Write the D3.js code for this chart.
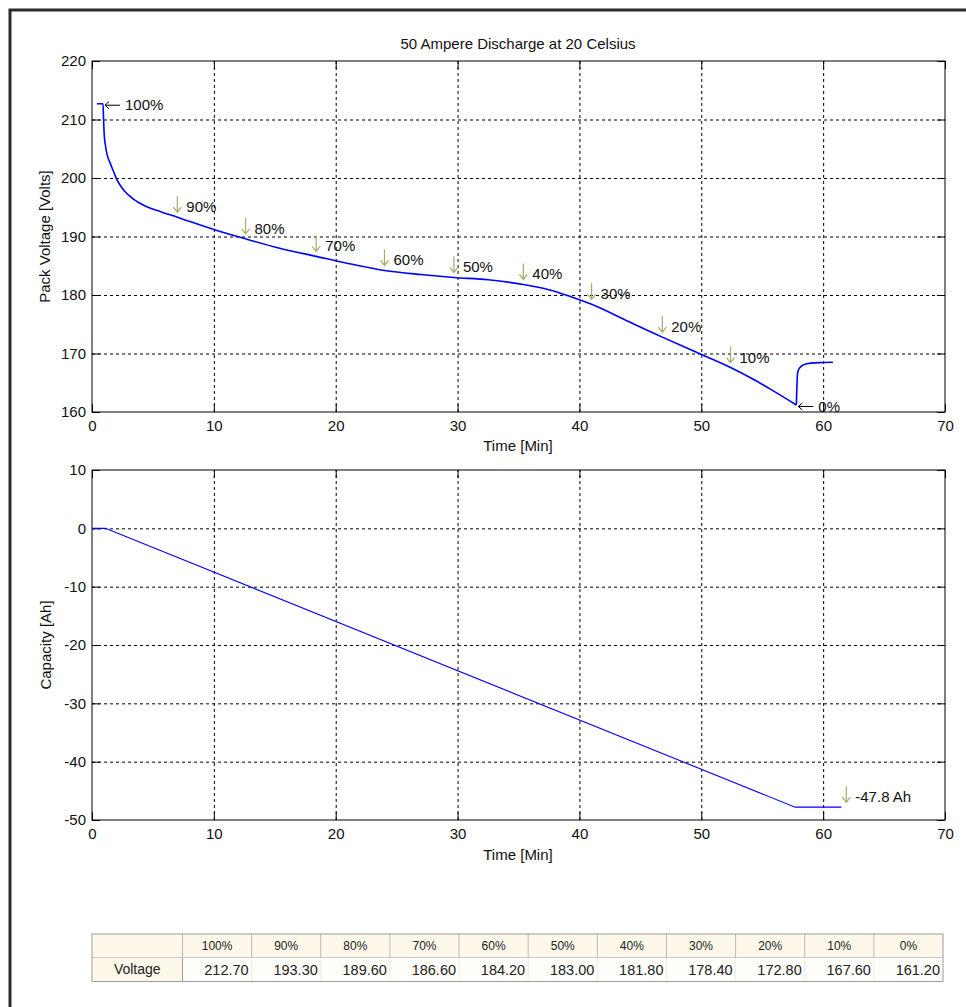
<!DOCTYPE html>
<html>
<head>
<meta charset="utf-8">
<script src="https://cdn.jsdelivr.net/npm/d3@7/dist/d3.min.js"></script>
<style>
  html, body { margin: 0; padding: 0; background: #ffffff; }
  svg { display: block; font-family: "Liberation Sans", Arial, sans-serif; }
</style>
</head>
<body>
<svg id="chart" width="966" height="1007"></svg>
<script>
// ---- Pack voltage during a 50 A discharge (minutes, volts) ----
const voltageTime  = [0.4, 0.9, 0.95, 1.0, 1.1, 1.25, 1.5, 1.75, 2.0, 2.3, 2.7, 3.4, 4.5, 5.7, 7.0, 10.0, 12.6, 15.4, 18.4, 21.0, 24.0, 27.0, 29.7, 32.5, 35.4, 37.5, 39.3, 41.0, 42.5, 44.5, 46.8, 49.6, 52.4, 54.0, 55.6, 57.8, 57.85, 57.9, 58.0, 58.2, 58.6, 59.0, 60.0, 60.8];
const voltageValue = [212.7, 212.7, 210.0, 207.5, 205.6, 203.9, 202.5, 201.2, 199.9, 198.8, 197.7, 196.4, 195.1, 194.2, 193.3, 191.2, 189.6, 188.0, 186.6, 185.4, 184.2, 183.5, 183.0, 182.6, 181.8, 180.9, 179.7, 178.4, 177.0, 175.0, 172.8, 170.2, 167.6, 165.9, 164.0, 161.2, 164.5, 166.6, 167.3, 167.8, 168.2, 168.35, 168.45, 168.5];
// index of the end of discharge (lowest voltage), where the rest period begins
const restStart = voltageValue.indexOf(d3.min(voltageValue));

// ---- Removed capacity (minutes, amp-hours) ----
const capacityTime  = [0.0, 1.1, 57.7, 61.5];
const capacityValue = [0.0, 0.0, -47.8, -47.8];

// ---- State-of-charge markers along the voltage curve ----
const socLabels  = ["100%", "90%", "80%", "70%", "60%", "50%", "40%", "30%", "20%", "10%", "0%"];
const socVoltage = [212.70, 193.30, 189.60, 186.60, 184.20, 183.00, 181.80, 178.40, 172.80, 167.60, 161.20];
const socTime    = [0.9, 7.0, 12.6, 18.4, 24.0, 29.7, 35.4, 41.0, 46.8, 52.4, 57.8];

// ---- Final capacity marker ----
const capacityFinal = -47.8;
const capacityFinalTime = 61.9;

// ---- Axis ticks ----
const timeTicks     = [0, 10, 20, 30, 40, 50, 60, 70];
const voltageTicks  = [160, 170, 180, 190, 200, 210, 220];
const capacityTicks = [-50, -40, -30, -20, -10, 0, 10];

// ---- Summary table ----
const tableRowLabel = "Voltage";

const svg = d3.select("#chart");
const FONT = 15;
const arrowColor = "#a6ab68";

// window frame
svg.append("path")
  .attr("d", "M10,1007 V10 H966")
  .attr("fill", "none")
  .attr("stroke", "#2b2b2b")
  .attr("stroke-width", 3);

function panel(box, xDomain, yDomain, yTicks) {
  const x = d3.scaleLinear().domain(xDomain).range([box.left, box.right]);
  const y = d3.scaleLinear().domain(yDomain).range([box.bottom, box.top]);
  const w = box.right - box.left, h = box.bottom - box.top;
  const g = svg.append("g");

  // dashed grid at interior ticks
  const gx = g.append("g").attr("transform", `translate(0,${box.bottom})`)
    .call(d3.axisBottom(x).tickValues(timeTicks.slice(1, -1)).tickSize(-h).tickFormat(""));
  const gy = g.append("g").attr("transform", `translate(${box.left},0)`)
    .call(d3.axisLeft(y).tickValues(yTicks.slice(1, -1)).tickSize(-w).tickFormat(""));
  [gx, gy].forEach(s => {
    s.select(".domain").remove();
    s.selectAll("line").attr("stroke", "#000").attr("stroke-width", 1).attr("stroke-dasharray", "3,3");
  });

  // inward ticks on all sides
  const tl = 8;
  const plain = d => String(d);
  const bottomAx = g.append("g").attr("transform", `translate(0,${box.bottom})`)
    .call(d3.axisBottom(x).tickValues(timeTicks).tickSizeInner(-tl).tickSizeOuter(0).tickPadding(8).tickFormat(plain));
  const leftAx = g.append("g").attr("transform", `translate(${box.left},0)`)
    .call(d3.axisLeft(y).tickValues(yTicks).tickSizeInner(-tl).tickSizeOuter(0).tickPadding(6).tickFormat(plain));
  const topAx = g.append("g").attr("transform", `translate(0,${box.top})`)
    .call(d3.axisTop(x).tickValues(timeTicks).tickSizeInner(-tl).tickSizeOuter(0).tickFormat(""));
  const rightAx = g.append("g").attr("transform", `translate(${box.right},0)`)
    .call(d3.axisRight(y).tickValues(yTicks).tickSizeInner(-tl).tickSizeOuter(0).tickFormat(""));
  [bottomAx, leftAx, topAx, rightAx].forEach(s => {
    s.select(".domain").remove();
    s.selectAll("line").attr("stroke", "#000");
    s.selectAll("text").attr("font-size", FONT).attr("fill", "#111").attr("font-family", "Liberation Sans, Arial, sans-serif");
  });

  g.append("rect")
    .attr("x", box.left).attr("y", box.top).attr("width", w).attr("height", h)
    .attr("fill", "none").attr("stroke", "#000").attr("stroke-width", 1);

  return { x, y, g };
}

function downArrow(g, px, tip) {
  g.append("path")
    .attr("d", `M${px},${tip - 16} V${tip} M${px - 4},${tip - 5} L${px},${tip} L${px + 4},${tip - 5}`)
    .attr("fill", "none").attr("stroke", arrowColor).attr("stroke-width", 1.2);
}

// ---------------- Voltage panel ----------------
const p1 = panel({ left: 92, right: 945, top: 61, bottom: 412 }, [0, 70], [160, 220], voltageTicks);

const voltagePts = voltageTime.map((t, i) => [t, voltageValue[i]]);
const voltageLine = d3.line().x(d => p1.x(d[0])).y(d => p1.y(d[1])).curve(d3.curveMonotoneX);
// discharge and rest drawn as two smooth pieces sharing the minimum point
[voltagePts.slice(0, restStart + 1), voltagePts.slice(restStart)].forEach(seg => {
  p1.g.append("path")
    .datum(seg)
    .attr("fill", "none")
    .attr("stroke", "#0000ff")
    .attr("stroke-width", 1.6)
    .attr("stroke-linejoin", "round")
    .attr("d", voltageLine);
});

// SOC markers
socLabels.forEach((lab, i) => {
  const px = p1.x(socTime[i]), py = p1.y(socVoltage[i]);
  if (i === 0 || i === socLabels.length - 1) {
    // left-pointing arrow at the end points
    const cy = py + 1.5;
    p1.g.append("path")
      .attr("d", `M${px + 17},${cy} H${px + 2} M${px + 6},${cy - 3.5} L${px + 2},${cy} L${px + 6},${cy + 3.5}`)
      .attr("fill", "none").attr("stroke", "#000").attr("stroke-width", 1);
    p1.g.append("text")
      .attr("x", px + 22).attr("y", cy).attr("dy", "0.35em")
      .attr("font-size", FONT).attr("fill", "#111").text(lab);
  } else {
    const tip = py - 5;
    downArrow(p1.g, px, tip);
    p1.g.append("text")
      .attr("x", px + 9).attr("y", tip)
      .attr("font-size", FONT).attr("fill", "#111").text(lab);
  }
});

svg.append("text").attr("x", 518).attr("y", 49).attr("text-anchor", "middle")
  .attr("font-size", FONT).attr("fill", "#111").text("50 Ampere Discharge at 20 Celsius");
svg.append("text").attr("x", 518).attr("y", 451).attr("text-anchor", "middle")
  .attr("font-size", FONT).attr("fill", "#111").text("Time [Min]");
svg.append("text").attr("transform", "translate(50,236.5) rotate(-90)").attr("text-anchor", "middle")
  .attr("font-size", FONT).attr("fill", "#111").text("Pack Voltage [Volts]");

// ---------------- Capacity panel ----------------
const p2 = panel({ left: 92, right: 945, top: 470, bottom: 820 }, [0, 70], [-50, 10], capacityTicks);

const capacityPts = capacityTime.map((t, i) => [t, capacityValue[i]]);
p2.g.append("path")
  .datum(capacityPts)
  .attr("fill", "none")
  .attr("stroke", "#0000ff")
  .attr("stroke-width", 1.1)
  .attr("d", d3.line().x(d => p2.x(d[0])).y(d => p2.y(d[1])));

{
  const px = p2.x(capacityFinalTime), tip = p2.y(capacityFinal) - 5;
  downArrow(p2.g, px, tip);
  p2.g.append("text")
    .attr("x", px + 9).attr("y", tip)
    .attr("font-size", FONT).attr("fill", "#111").text(`${capacityFinal} Ah`);
}

svg.append("text").attr("x", 518).attr("y", 860).attr("text-anchor", "middle")
  .attr("font-size", FONT).attr("fill", "#111").text("Time [Min]");
svg.append("text").attr("transform", "translate(51,645) rotate(-90)").attr("text-anchor", "middle")
  .attr("font-size", FONT).attr("fill", "#111").text("Capacity [Ah]");

// ---------------- Summary table ----------------
const tbl = { left: 92, firstCol: 182.5, right: 943, top: 934, mid: 957.5, bottom: 981.5 };
const col = d3.scaleBand().domain(socLabels).range([tbl.firstCol, tbl.right]);
const tg = svg.append("g");

// header row and row label cell
tg.append("rect").attr("x", tbl.left).attr("y", tbl.top)
  .attr("width", tbl.right - tbl.left).attr("height", tbl.mid - tbl.top).attr("fill", "#fdf8ea");
tg.append("rect").attr("x", tbl.left).attr("y", tbl.mid)
  .attr("width", tbl.firstCol - tbl.left).attr("height", tbl.bottom - tbl.mid).attr("fill", "#fdf8ea");
tg.append("rect").attr("x", tbl.firstCol).attr("y", tbl.mid)
  .attr("width", tbl.right - tbl.firstCol).attr("height", tbl.bottom - tbl.mid).attr("fill", "#fffefb");

// column dividers
tg.selectAll("line.hdiv").data(socLabels).join("line")
  .attr("x1", d => col(d)).attr("x2", d => col(d))
  .attr("y1", tbl.top).attr("y2", tbl.mid)
  .attr("stroke", "#b9b9b9");
tg.selectAll("line.ddiv").data(socLabels.slice(1)).join("line")
  .attr("x1", d => col(d)).attr("x2", d => col(d))
  .attr("y1", tbl.mid).attr("y2", tbl.bottom)
  .attr("stroke", "#f1ead8");
tg.append("line").attr("x1", tbl.firstCol).attr("x2", tbl.firstCol)
  .attr("y1", tbl.mid).attr("y2", tbl.bottom).attr("stroke", "#9a9a9a");
tg.append("line").attr("x1", tbl.left).attr("x2", tbl.right)
  .attr("y1", tbl.mid).attr("y2", tbl.mid).attr("stroke", "#c8c8c8");
tg.append("rect").attr("x", tbl.left).attr("y", tbl.top)
  .attr("width", tbl.right - tbl.left).attr("height", tbl.bottom - tbl.top)
  .attr("fill", "none").attr("stroke", "#9c9c9c");

// headers
tg.selectAll("text.hdr").data(socLabels).join("text")
  .attr("x", d => col(d) + col.bandwidth() / 2).attr("y", (tbl.top + tbl.mid) / 2)
  .attr("dy", "0.35em").attr("text-anchor", "middle")
  .attr("font-size", 12).attr("fill", "#222").text(d => d);

// values
tg.selectAll("text.val").data(socLabels).join("text")
  .attr("x", d => col(d) + col.bandwidth() - 3).attr("y", (tbl.mid + tbl.bottom) / 2)
  .attr("dy", "0.35em").attr("text-anchor", "end")
  .attr("font-size", 14.5).attr("fill", "#222").text((d, i) => socVoltage[i].toFixed(2));

tg.append("text")
  .attr("x", (tbl.left + tbl.firstCol) / 2).attr("y", (tbl.mid + tbl.bottom) / 2)
  .attr("dy", "0.35em").attr("text-anchor", "middle")
  .attr("font-size", 14).attr("fill", "#222").text(tableRowLabel);
</script>
</body>
</html>
